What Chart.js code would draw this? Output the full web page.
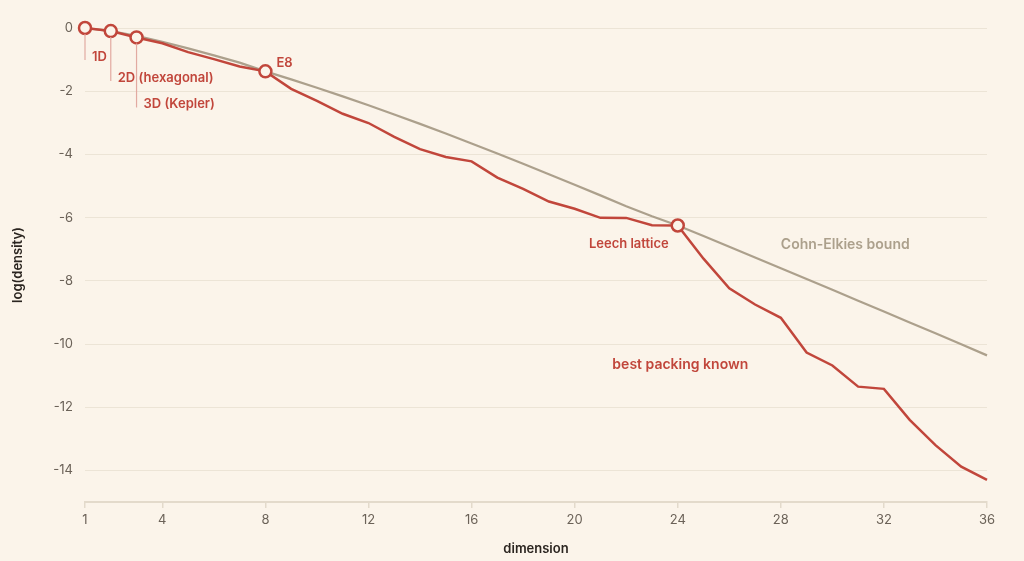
<!DOCTYPE html>
<html>
<head>
<meta charset="utf-8">
<script src="https://cdn.jsdelivr.net/npm/chart.js@4/dist/chart.umd.min.js"></script>
<style>
  html, body { margin: 0; padding: 0; background: #fbf4ea; }
  #wrap { width: 1024px; height: 561px; }
</style>
</head>
<body>
<div id="wrap"><canvas id="c"></canvas></div>
<script>
// dimensions 1..36
const dims = Array.from({ length: 36 }, (_, i) => i + 1)

// ln(density) of best known packing
const bestKnown = [0, -0.098, -0.300, -0.483, -0.765, -0.986, -1.220, -1.372,
  -1.926, -2.306, -2.714, -3.007, -3.442, -3.834, -4.083, -4.219,
  -4.732, -5.088, -5.492, -5.721, -6.008, -6.010, -6.242, -6.250,
  -7.30, -8.24, -8.75, -9.17, -10.27, -10.68, -11.35, -11.42,
  -12.40, -13.20, -13.88, -14.30]

// ln(density) upper bound (Cohn-Elkies)
const cohnElkies = [0, -0.098, -0.249, -0.434, -0.646, -0.867, -1.097, -1.372,
  -1.626, -1.889, -2.163, -2.445, -2.736, -3.035, -3.341, -3.654,
  -3.973, -4.297, -4.626, -4.959, -5.297, -5.640, -5.960, -6.250,
  -6.58, -6.92, -7.26, -7.60, -7.94, -8.28, -8.63, -8.97,
  -9.32, -9.66, -10.01, -10.36]

const xTicks = [1, 4, 8, 12, 16, 20, 24, 28, 32, 36]
const yTicks = [-14, -12, -10, -8, -6, -4, -2, 0]
const markedDims = [1, 2, 3, 8, 24]

const RED = '#c1463b'
const GREY = '#aca08c'
const BG = '#fbf4ea'
const FONT = 'Inter, "Open Sans", sans-serif'

const labelsPlugin = {
  id: 'labels',
  afterDatasetsDraw(chart) {
    const ctx = chart.ctx
    const x = chart.scales.x, y = chart.scales.y
    const px = d => x.getPixelForValue(d)
    const py = d => y.getPixelForValue(bestKnown[d - 1])
    ctx.save()
    ctx.font = `600 13px ${FONT}`
    ctx.textBaseline = 'middle'

    // leader lines for the low dimensions
    const leaders = [
      { d: 1, len: 32, text: '1D' },
      { d: 2, len: 50, text: '2D (hexagonal)' },
      { d: 3, len: 70, text: '3D (Kepler)' }
    ]
    leaders.forEach(l => {
      const x0 = px(l.d), y0 = py(l.d)
      ctx.strokeStyle = '#e2aaa1'
      ctx.lineWidth = 1.2
      ctx.beginPath()
      ctx.moveTo(x0, y0 + 6)
      ctx.lineTo(x0, y0 + l.len)
      ctx.stroke()
      ctx.fillStyle = RED
      ctx.textAlign = 'left'
      ctx.fillText(l.text, x0 + 7, y0 + l.len - 3)
    })

    ctx.fillStyle = RED
    ctx.textAlign = 'left'
    ctx.fillText('E8', px(8) + 11, py(8) - 8)
    ctx.textAlign = 'right'
    ctx.fillText('Leech lattice', px(24) - 9, py(24) + 19)

    ctx.font = `600 14px ${FONT}`
    ctx.textAlign = 'center'
    ctx.fillText('best packing known', x.getPixelForValue(24.1), y.getPixelForValue(-10.65))
    ctx.fillStyle = GREY
    ctx.textAlign = 'left'
    ctx.fillText('Cohn-Elkies bound', x.getPixelForValue(28), y.getPixelForValue(-6.87))
    ctx.restore()
  }
}

new Chart(document.getElementById('c'), {
  type: 'line',
  data: {
    labels: dims,
    datasets: [
      {
        label: 'best packing known',
        data: dims.map((d, i) => ({ x: d, y: bestKnown[i] })),
        borderColor: RED,
        borderWidth: 2.5,
        pointRadius: ctx => markedDims.includes(dims[ctx.dataIndex]) ? 6 : 0,
        pointBackgroundColor: BG,
        pointBorderColor: RED,
        pointBorderWidth: 2.5,
        tension: 0,
        order: 0
      },
      {
        label: 'Cohn-Elkies bound',
        data: dims.map((d, i) => ({ x: d, y: cohnElkies[i] })),
        borderColor: GREY,
        borderWidth: 2.2,
        pointRadius: 0,
        tension: 0,
        order: 1
      }
    ]
  },
  options: {
    responsive: true,
    maintainAspectRatio: false,
    animation: false,
    clip: false,
    layout: { padding: { top: 28, right: 37, left: 0, bottom: 0 } },
    plugins: { legend: { display: false }, tooltip: { enabled: false } },
    scales: {
      x: {
        type: 'linear',
        min: 1,
        max: 36,
        afterBuildTicks: s => { s.ticks = xTicks.map(v => ({ value: v })) },
        afterFit: s => { s.height = 59 },
        grid: { display: true, drawOnChartArea: false, drawTicks: true, tickLength: 6, color: '#e3dacb', lineWidth: 1.5 },
        border: { display: true, color: '#e3dacb', width: 2 },
        ticks: { color: '#6b6258', font: { family: FONT, size: 13 }, padding: 4, maxRotation: 0 },
        title: { display: true, text: 'dimension', color: '#2b2520', font: { family: FONT, size: 13, weight: '600' }, padding: { top: 4 } }
      },
      y: {
        min: -15,
        max: 0,
        afterBuildTicks: s => { s.ticks = yTicks.map(v => ({ value: v })) },
        afterFit: s => { s.width = 85 },
        grid: { color: '#ece4d6', drawTicks: false },
        border: { display: false },
        ticks: { color: '#6b6258', font: { family: FONT, size: 13 }, padding: 12 },
        title: { display: true, text: 'log(density)', color: '#2b2520', font: { family: FONT, size: 13, weight: '600' }, padding: { top: 10, bottom: 4 } }
      }
    }
  },
  plugins: [labelsPlugin]
})
</script>
</body>
</html>
